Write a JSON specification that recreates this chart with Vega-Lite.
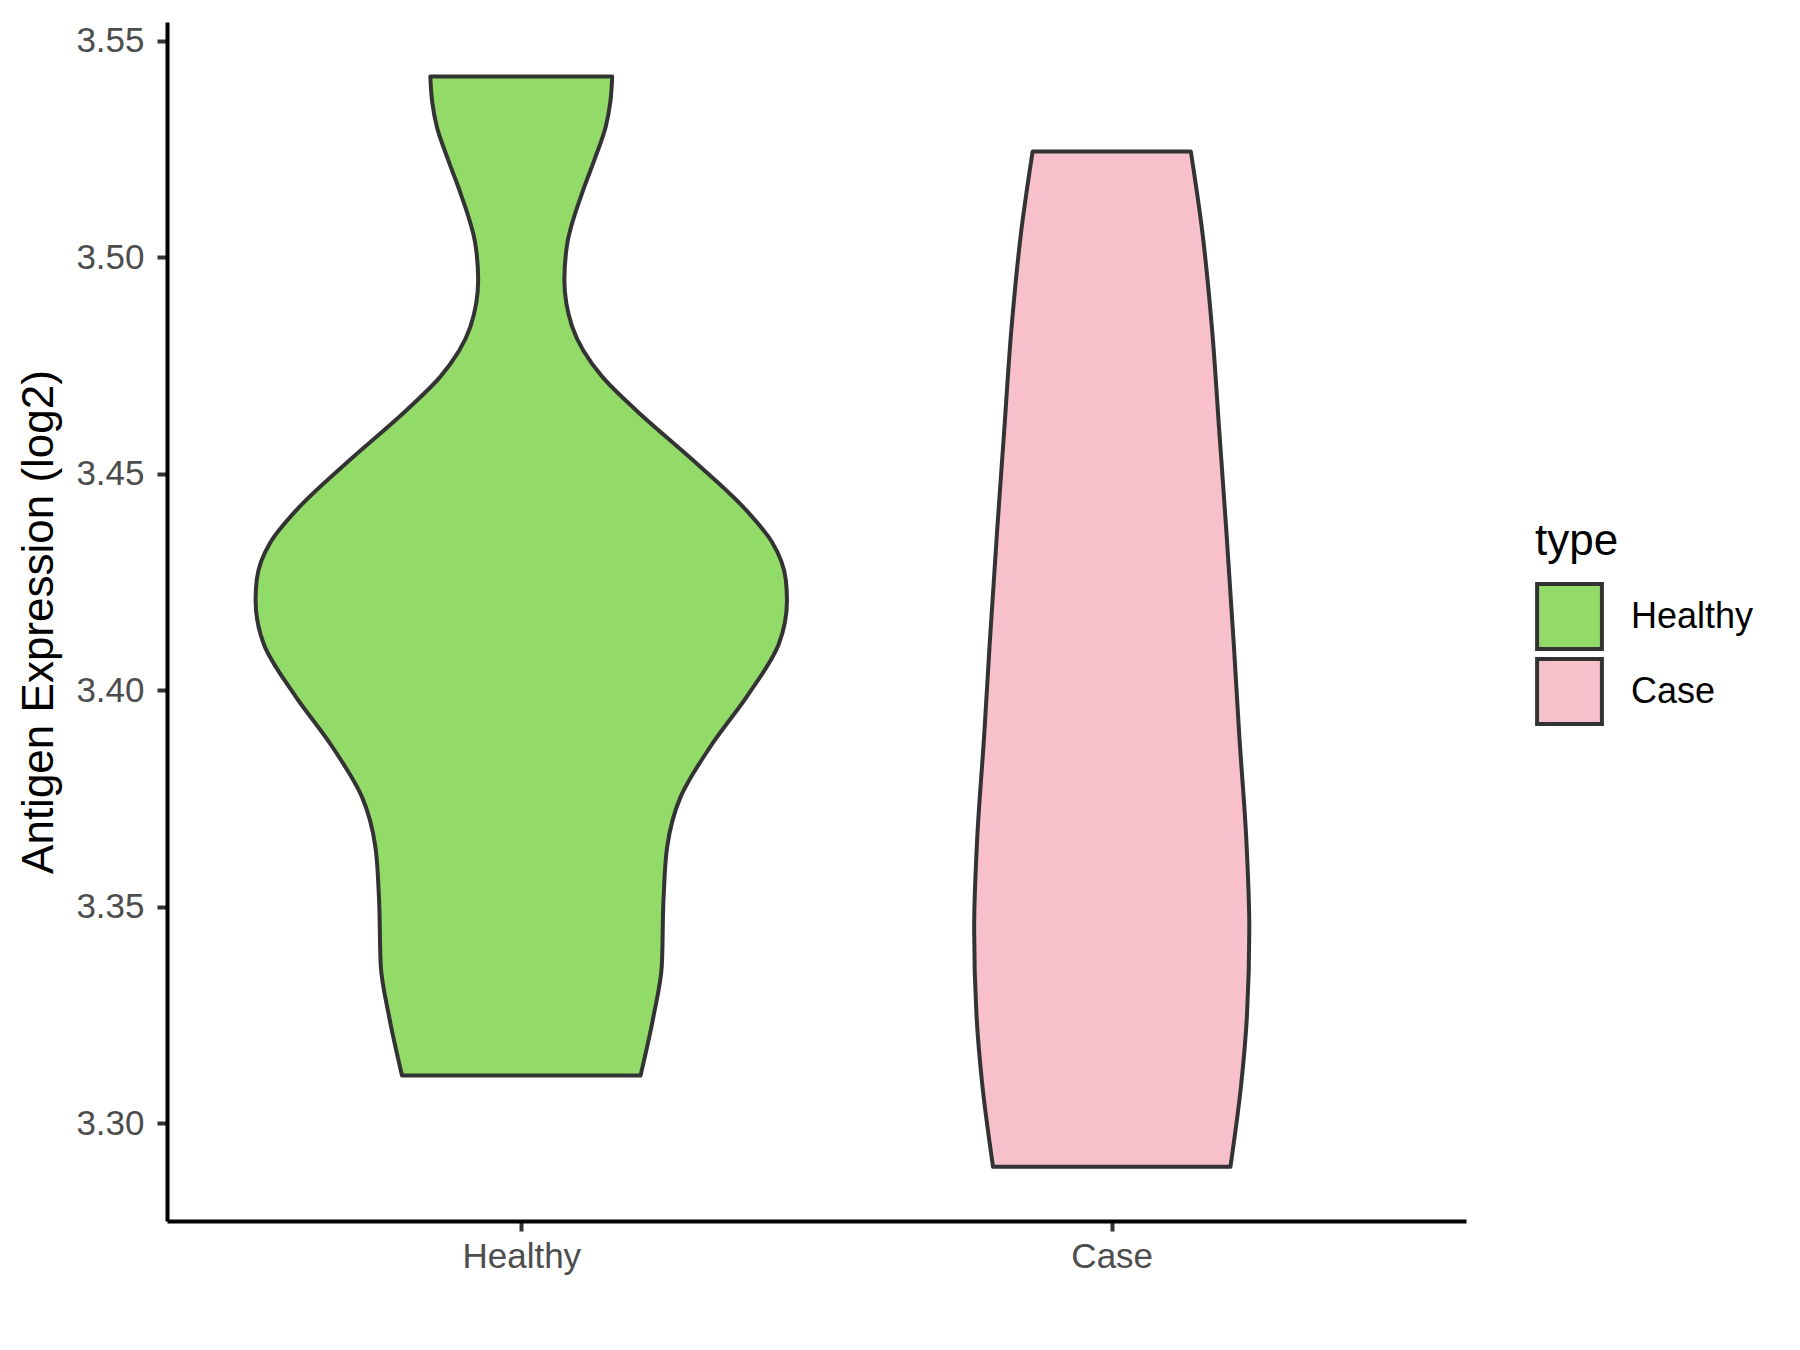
{
  "$schema": "https://vega.github.io/schema/vega-lite/v6.json",
  "width": 1299,
  "height": 1199,
  "autosize": {"type": "none"},
  "padding": {"left": 167, "top": 22, "right": 334, "bottom": 129},
  "background": "white",
  "config": {
    "view": {"stroke": null},
    "font": "Liberation Sans"
  },
  "data": {
    "values": [
      {"type": "Healthy", "value": 3.5417, "w": 0.154},
      {"type": "Healthy", "value": 3.5360, "w": 0.151},
      {"type": "Healthy", "value": 3.5301, "w": 0.143},
      {"type": "Healthy", "value": 3.5225, "w": 0.124},
      {"type": "Healthy", "value": 3.5148, "w": 0.103},
      {"type": "Healthy", "value": 3.5032, "w": 0.078},
      {"type": "Healthy", "value": 3.4947, "w": 0.073},
      {"type": "Healthy", "value": 3.4840, "w": 0.086},
      {"type": "Healthy", "value": 3.4724, "w": 0.137},
      {"type": "Healthy", "value": 3.4647, "w": 0.194},
      {"type": "Healthy", "value": 3.4532, "w": 0.290},
      {"type": "Healthy", "value": 3.4417, "w": 0.380},
      {"type": "Healthy", "value": 3.4341, "w": 0.425},
      {"type": "Healthy", "value": 3.4255, "w": 0.448},
      {"type": "Healthy", "value": 3.4207, "w": 0.450},
      {"type": "Healthy", "value": 3.4106, "w": 0.436},
      {"type": "Healthy", "value": 3.3989, "w": 0.384},
      {"type": "Healthy", "value": 3.3871, "w": 0.321},
      {"type": "Healthy", "value": 3.3754, "w": 0.270},
      {"type": "Healthy", "value": 3.3637, "w": 0.247},
      {"type": "Healthy", "value": 3.3520, "w": 0.241},
      {"type": "Healthy", "value": 3.3364, "w": 0.238},
      {"type": "Healthy", "value": 3.3247, "w": 0.224},
      {"type": "Healthy", "value": 3.3110, "w": 0.202},
      {"type": "Case", "value": 3.5244, "w": 0.134},
      {"type": "Case", "value": 3.5063, "w": 0.153},
      {"type": "Case", "value": 3.4832, "w": 0.170},
      {"type": "Case", "value": 3.4601, "w": 0.182},
      {"type": "Case", "value": 3.4370, "w": 0.194},
      {"type": "Case", "value": 3.4100, "w": 0.207},
      {"type": "Case", "value": 3.3896, "w": 0.216},
      {"type": "Case", "value": 3.3653, "w": 0.228},
      {"type": "Case", "value": 3.3449, "w": 0.233},
      {"type": "Case", "value": 3.3248, "w": 0.229},
      {"type": "Case", "value": 3.3086, "w": 0.219},
      {"type": "Case", "value": 3.2899, "w": 0.201}
    ]
  },
  "transform": [
    {"calculate": "datum.type === 'Healthy' ? 1 : 2", "as": "center"},
    {"calculate": "datum.center - datum.w", "as": "lo"},
    {"calculate": "datum.center + datum.w", "as": "hi"}
  ],
  "mark": {
    "type": "area",
    "orient": "horizontal",
    "interpolate": "monotone",
    "stroke": "#333333",
    "strokeWidth": 4,
    "strokeJoin": "round",
    "fillOpacity": 1
  },
  "encoding": {
    "y": {
      "field": "value",
      "type": "quantitative",
      "scale": {"domain": [3.2774, 3.5543], "nice": false, "zero": false},
      "axis": {
        "title": "Antigen Expression (log2)",
        "titleFontSize": 44,
        "titleFontWeight": "normal",
        "titleColor": "black",
        "titlePadding": 14,
        "values": [3.30, 3.35, 3.40, 3.45, 3.50, 3.55],
        "format": ".2f",
        "grid": false,
        "labelFontSize": 35,
        "labelColor": "#4d4d4d",
        "labelPadding": 13,
        "tickSize": 10,
        "tickWidth": 4,
        "tickColor": "#333333",
        "domainColor": "black",
        "domainWidth": 4
      }
    },
    "x": {
      "field": "lo",
      "type": "quantitative",
      "scale": {"domain": [0.4, 2.6], "nice": false, "zero": false},
      "axis": {
        "title": null,
        "values": [1, 2],
        "labelExpr": "datum.value == 1 ? 'Healthy' : 'Case'",
        "grid": false,
        "labelFontSize": 35,
        "labelColor": "#4d4d4d",
        "labelPadding": 8,
        "tickSize": 10,
        "tickWidth": 4,
        "tickColor": "#333333",
        "domainColor": "black",
        "domainWidth": 4
      }
    },
    "x2": {"field": "hi"},
    "fill": {
      "field": "type",
      "type": "nominal",
      "scale": {"domain": ["Healthy", "Case"], "range": ["#93DB69", "#F7C0CB"]},
      "legend": {
        "title": "type",
        "orient": "none",
        "legendX": 1368,
        "legendY": 498,
        "padding": 0,
        "titleFontSize": 44,
        "titleFontWeight": "normal",
        "titleColor": "black",
        "titlePadding": 18,
        "labelFontSize": 36,
        "labelColor": "black",
        "labelOffset": 27,
        "symbolType": "square",
        "symbolSize": 4200,
        "symbolStrokeColor": "#333333",
        "symbolStrokeWidth": 4,
        "symbolOpacity": 1,
        "rowPadding": -7
      }
    }
  }
}
